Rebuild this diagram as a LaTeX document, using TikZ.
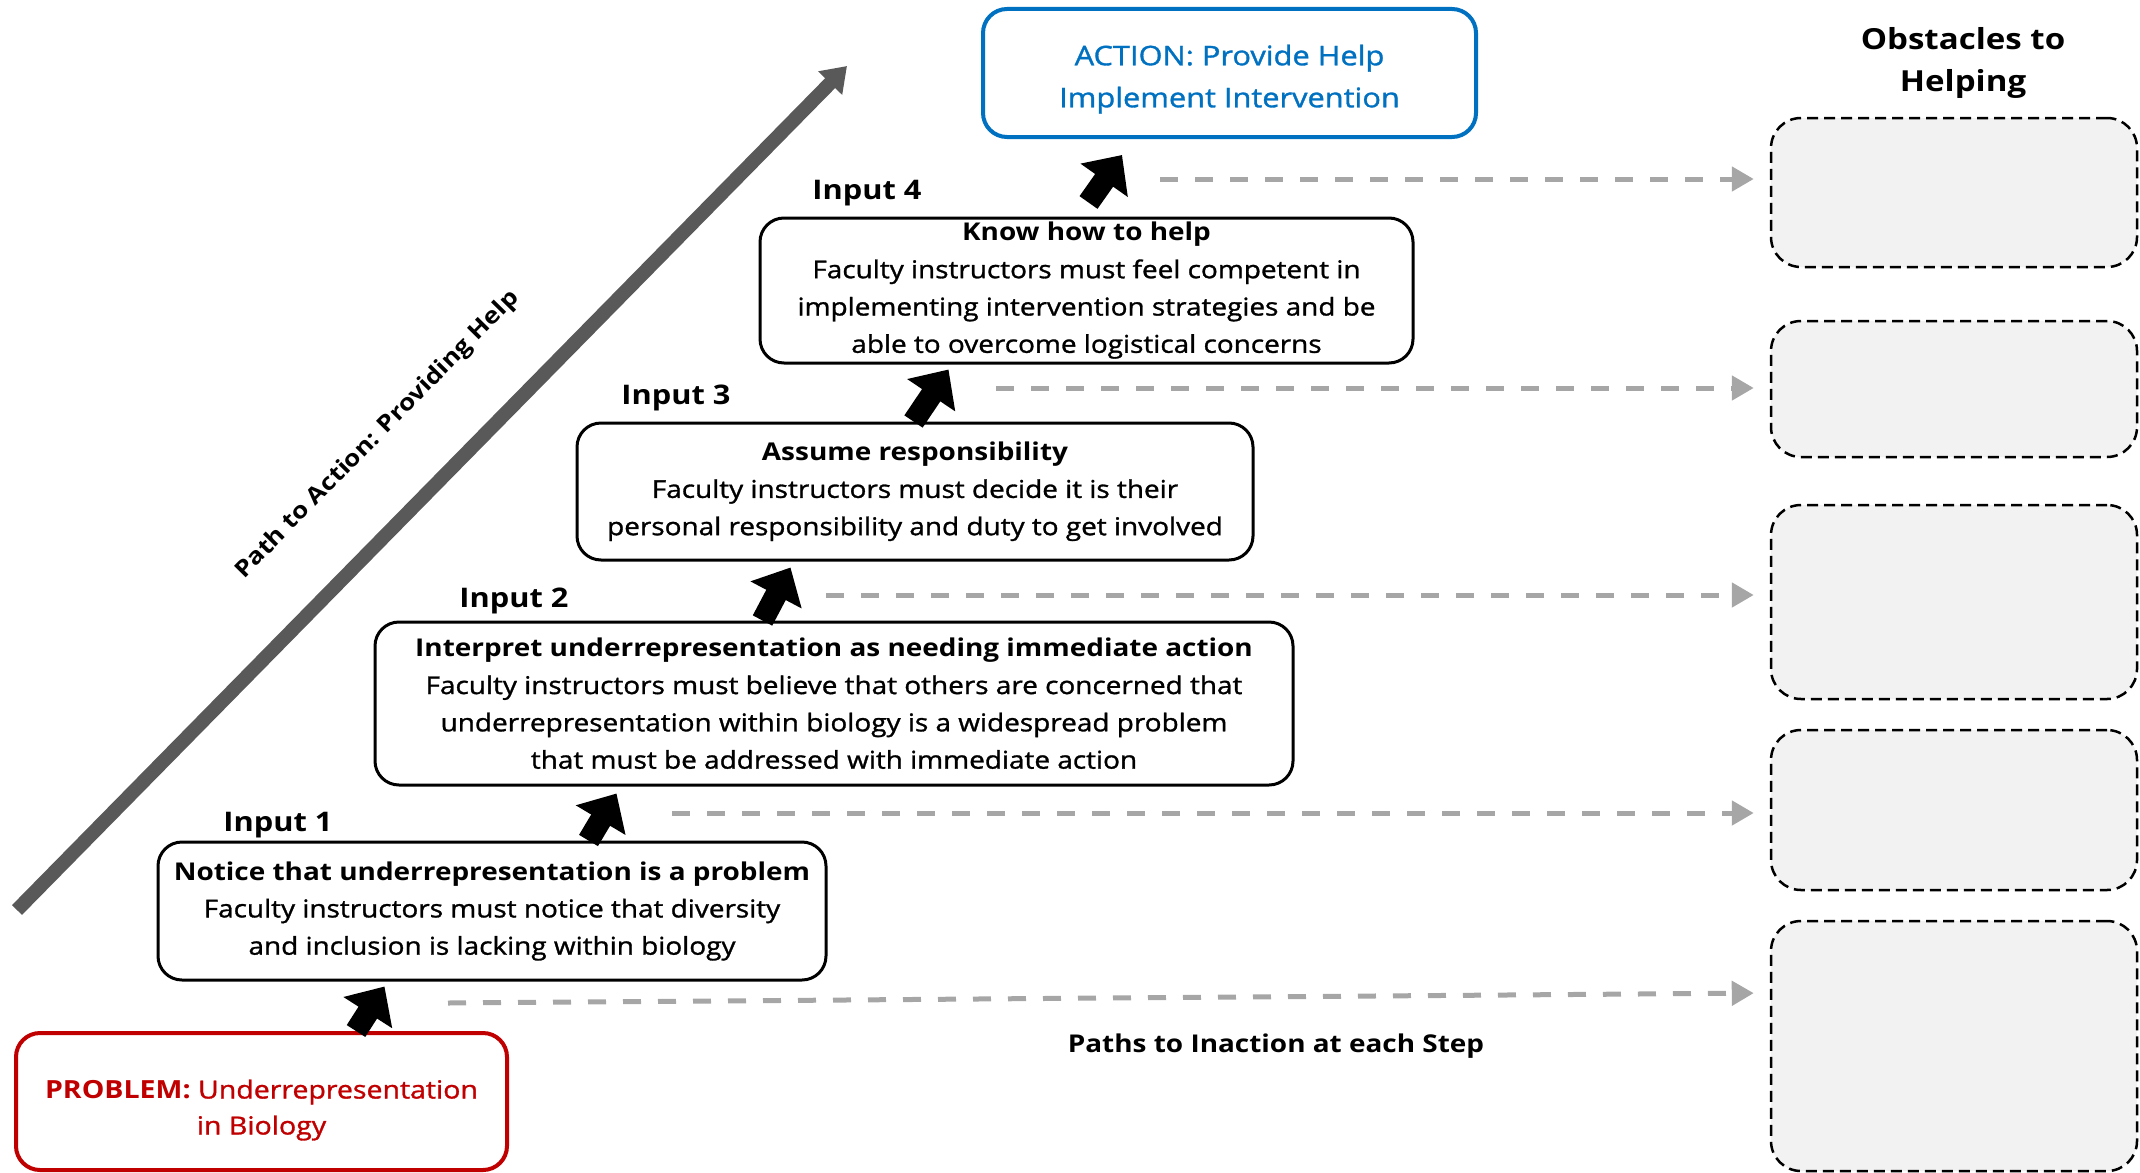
\documentclass[tikz,border=0pt]{standalone}
\usepackage{fontspec}
\setmainfont{Open Sans}[FakeStretch=1.14, UprightFeatures={FakeBold=1.2}]
\usetikzlibrary{arrows.meta,calc}
\definecolor{probred}{HTML}{C00000}
\definecolor{actblue}{HTML}{0070C0}
\definecolor{dashgray}{HTML}{A6A6A6}
\definecolor{pathgray}{HTML}{595959}
\definecolor{obsfill}{HTML}{F2F2F2}
\begin{document}
\begin{tikzpicture}[x=1pt,y=-1pt,
  stage/.style={draw, line width=3pt, rounded corners=24pt, align=center,
    inner sep=0pt, font=\fontsize{24.5}{37.3}\selectfont},
  endbox/.style={line width=4pt, rounded corners=24pt, align=center,
    inner sep=0pt, font=\fontsize{25}{36}\selectfont},
  obst/.style={draw, line width=2.5pt, dash pattern=on 11pt off 6pt,
    fill=obsfill, rounded corners=30pt, minimum width=366pt},
  blk/.style={line width=22pt, -{Triangle[width=56pt,length=31pt]}},
  inact/.style={draw=dashgray, line width=5pt, dash pattern=on 18pt off 17pt,
    -{Triangle[width=24pt,length=22pt]}, shorten >=16pt},
  inlabel/.style={anchor=base, font=\bfseries\fontsize{27}{30}\selectfont},
  heading/.style={anchor=base, font=\bfseries\fontsize{29}{42}\selectfont, align=center}
]
\useasboundingbox (0,0) rectangle (2140,1172);

% diagonal path arrow
\coordinate (pa) at (17,910);
\coordinate (pb) at (847,66);
\draw[line width=14pt, draw=pathgray, -{Triangle[width=32pt,length=24pt]}] (pa) -- (pb)
  node[midway, sloped, above=54pt, font=\bfseries\fontsize{23}{26}\selectfont] (pathlbl) {Path to Action: Providing Help};

% start and end states (the tall strut on the first line lowers the text a little)
\node[endbox, draw=probred, text=probred, minimum width=491pt, minimum height=137pt]
  (prob) at (261.5,1101.5) {\rule{0pt}{36pt}\textbf{PROBLEM:} Underrepresentation\\in Biology};
\node[endbox, draw=actblue, text=actblue, minimum width=493pt, minimum height=128pt,
  font=\fontsize{27}{42}\selectfont]
  (act) at (1229.5,73) {\rule{0pt}{33pt}ACTION: Provide Help\\Implement Intervention};

% the four steps
\node[stage, minimum width=668pt, minimum height=138pt] (in1) at (492,911)
  {\textbf{Notice that underrepresentation is a problem}\\
   Faculty instructors must notice that diversity\\
   and inclusion is lacking within biology};
\node[stage, minimum width=918pt, minimum height=163pt] (in2) at (834,703.5)
  {\textbf{Interpret underrepresentation as needing immediate action}\\
   Faculty instructors must believe that others are concerned that\\
   underrepresentation within biology is a widespread problem\\
   that must be addressed with immediate action};
\node[stage, minimum width=676pt, minimum height=137pt] (in3) at (915,491.5)
  {\textbf{Assume responsibility}\\
   Faculty instructors must decide it is their\\
   personal responsibility and duty to get involved};
\node[stage, minimum width=653pt, minimum height=145pt] (in4) at (1086.5,290.5)
  {\textbf{Know how to help}\\
   Faculty instructors must feel competent in\\
   implementing intervention strategies and be\\
   able to overcome logistical concerns};

\node[inlabel] (lab1) at (278,831) {Input 1};
\node[inlabel] (lab2) at (514,607) {Input 2};
\node[inlabel] (lab3) at (676,404) {Input 3};
\node[inlabel] (lab4) at (867,199) {Input 4};

% steps upward
\draw[blk] ($(prob.north west)+(342,0)$) -- ($(in1.south west)+(228,5)$);
\draw[blk] ($(in1.north west)+(432,0)$) -- ($(in2.south west)+(243,7)$);
\draw[blk] ($(in2.north west)+(389,0)$) -- ($(in3.south west)+(215,6)$);
\draw[blk] ($(in3.north west)+(338,0)$) -- ($(in4.south west)+(190,5)$);
\draw[blk] ($(in4.north west)+(330,-14)$) -- ($(act.south west)+(141,16)$);

% obstacles column
\node[heading] (obtitle) at (1963,50) {Obstacles to};
\node[heading] (obtitle2) at (1963,92) {Helping};
\node[obst, minimum height=149pt] (ob1) at (1954,192.5) {};
\node[obst, minimum height=136pt] (ob2) at (1954,389) {};
\node[obst, minimum height=194pt] (ob3) at (1954,602) {};
\node[obst, minimum height=160pt] (ob4) at (1954,810) {};
\node[obst, minimum height=250pt] (ob5) at (1954,1046) {};

% paths to inaction
\coordinate (s1) at (1160,179);
\coordinate (s2) at (996,388);
\coordinate (s3) at (826,595);
\coordinate (s4) at (672,813);
\coordinate (s5) at (448,1003);
\draw[inact] (s1) -- (s1 -| ob1.west);
\draw[inact] (s2) -- (s2 -| ob2.west);
\draw[inact] (s3) -- (s3 -| ob3.west);
\draw[inact] (s4) -- (s4 -| ob4.west);
\draw[inact] (s5) -- ($(ob5.west)+(0,-53)$);

\node[anchor=base, font=\bfseries\fontsize{24.5}{28}\selectfont] (inaction) at (1276,1052)
  {Paths to Inaction at each Step};
\end{tikzpicture}
\end{document}
